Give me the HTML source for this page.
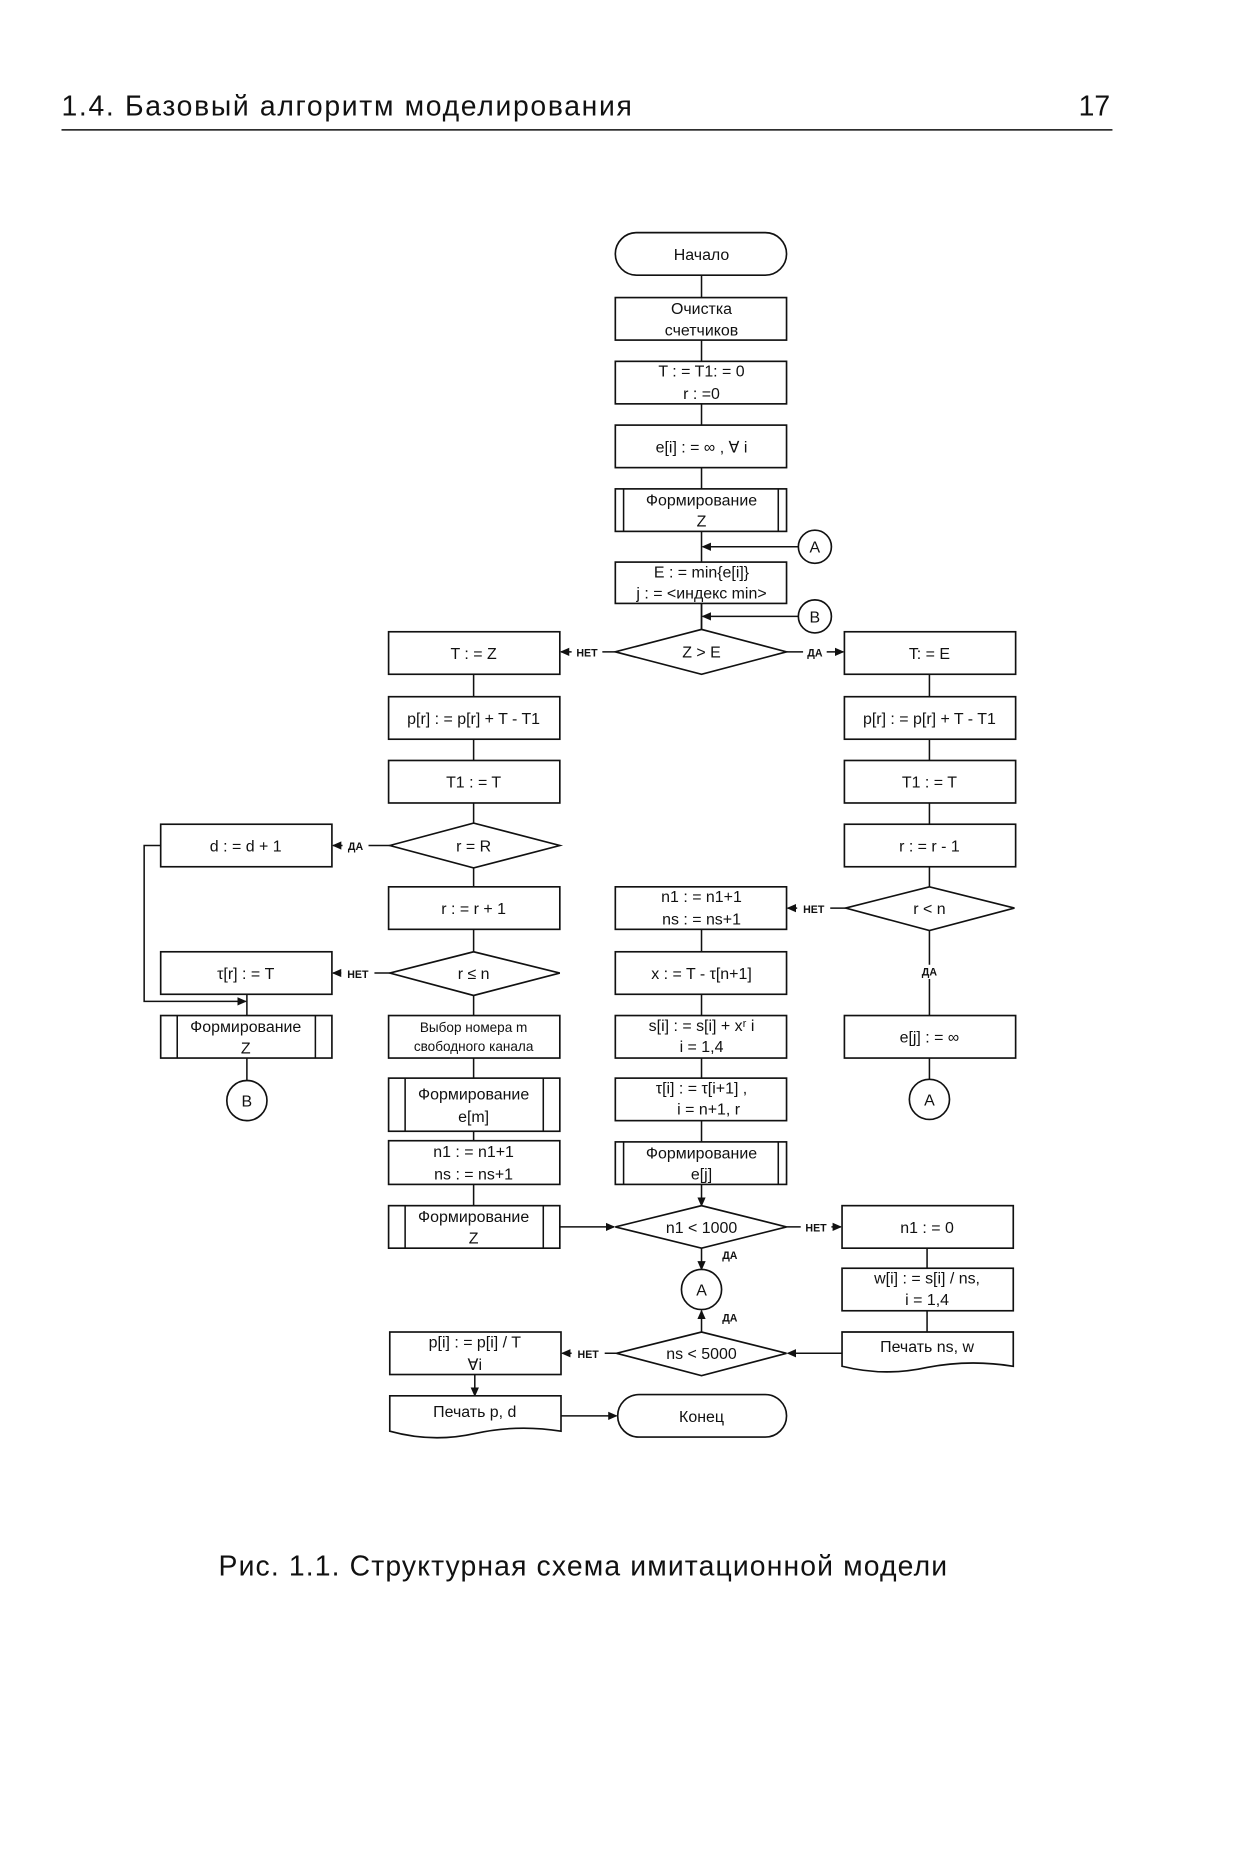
<!DOCTYPE html>
<html><head><meta charset="utf-8"><style>
html,body{margin:0;padding:0;background:#fff;}
svg{display:block;}
text{font-family:"Liberation Sans",sans-serif;fill:#111;}
.b{fill:#fff;stroke:#111;stroke-width:1.4;}
.l{fill:none;stroke:#111;stroke-width:1.3;}
.t{font-size:13.5px;text-anchor:middle;}
.s{font-size:9px;text-anchor:middle;font-weight:bold;}
</style></head><body>
<svg width="1233" height="1851" viewBox="0 0 1044 1567.5" xmlns="http://www.w3.org/2000/svg">
<defs><marker id="a" markerWidth="8" markerHeight="8" refX="7" refY="4" orient="auto" markerUnits="userSpaceOnUse"><path d="M0,0.5 L8,4 L0,7.5 z" fill="#111"/></marker></defs>
<rect width="1044" height="1567.5" fill="#fff"/>
<text x="52" y="98" style="font-size:24px" textLength="483" lengthAdjust="spacing">1.4.  Базовый алгоритм моделирования</text>
<text x="940" y="98" style="font-size:24px;text-anchor:end">17</text>
<line x1="52" y1="110" x2="942" y2="110" stroke="#111" stroke-width="1.2"/>

<line class="l" x1="594" y1="233" x2="594" y2="533"/>
<line class="l" x1="401" y1="571" x2="401" y2="1021"/>
<line class="l" x1="787" y1="571" x2="787" y2="751"/>
<line class="l" x1="594" y1="751" x2="594" y2="1003"/>
<line class="l" x1="594" y1="1003" x2="594" y2="1021" marker-end="url(#a)"/>
<line class="l" x1="787" y1="788" x2="787" y2="860"/>
<line class="l" x1="787" y1="896" x2="787" y2="914"/>
<line class="l" x1="785" y1="1057" x2="785" y2="1128"/>
<line class="l" x1="209" y1="842" x2="209" y2="860"/>
<line class="l" x1="209" y1="896" x2="209" y2="915"/>
<line class="l" x1="402" y1="1164" x2="402" y2="1182" marker-end="url(#a)"/>

<line class="l" x1="677" y1="463" x2="595" y2="463" marker-end="url(#a)"/>
<line class="l" x1="677" y1="522" x2="595" y2="522" marker-end="url(#a)"/>
<circle class="b" cx="690" cy="463" r="14"/><text class="t" x="690" y="468">A</text>
<circle class="b" cx="690" cy="522" r="14"/><text class="t" x="690" y="527">B</text>

<rect class="b" x="521" y="197" width="145" height="36" rx="18"/><text class="t" x="594" y="220">Начало</text>
<rect class="b" x="521" y="252" width="145" height="36"/><text class="t" x="594" y="266">Очистка</text><text class="t" x="594" y="284">счетчиков</text>
<rect class="b" x="521" y="306" width="145" height="36"/><text class="t" x="594" y="319">T : = T1: = 0</text><text class="t" x="594" y="338">r : =0</text>
<rect class="b" x="521" y="360" width="145" height="36"/><text class="t" x="594" y="383">e[i] : = ∞ ,  ∀ i</text>
<rect class="b" x="521" y="414" width="145" height="36"/><line class="l" x1="528" y1="414" x2="528" y2="450"/><line class="l" x1="659" y1="414" x2="659" y2="450"/><text class="t" x="594" y="428">Формирование</text><text class="t" x="594" y="446">Z</text>
<rect class="b" x="521" y="476" width="145" height="35"/><text class="t" x="594" y="489">E : = min{e[i]}</text><text class="t" x="594" y="507">j : = &lt;индекс min&gt;</text>
<line class="l" x1="594" y1="511" x2="594" y2="533"/>

<polygon class="b" points="521,552 594,533 666,552 594,571"/><text class="t" x="594" y="557">Z &gt; E</text>
<line class="l" x1="521" y1="552" x2="475" y2="552" marker-end="url(#a)"/><rect x="484" y="546" width="26" height="12" fill="#fff"/><text class="s" x="497" y="556">НЕТ</text>
<line class="l" x1="666" y1="552" x2="714" y2="552" marker-end="url(#a)"/><rect x="680" y="546" width="20" height="12" fill="#fff"/><text class="s" x="690" y="556">ДА</text>

<rect class="b" x="329" y="535" width="145" height="36"/><text class="t" x="401" y="558">T : = Z</text>
<rect class="b" x="329" y="590" width="145" height="36"/><text class="t" x="401" y="613">p[r] : = p[r] + T - T1</text>
<rect class="b" x="329" y="644" width="145" height="36"/><text class="t" x="401" y="667">T1 : = T</text>
<polygon class="b" points="330,716 401,697 474,716 401,735"/><text class="t" x="401" y="721">r = R</text>
<line class="l" x1="330" y1="716" x2="282" y2="716" marker-end="url(#a)"/><rect x="290" y="710" width="22" height="12" fill="#fff"/><text class="s" x="301" y="720">ДА</text>
<rect class="b" x="136" y="698" width="145" height="36"/><text class="t" x="208" y="721">d : = d + 1</text>
<rect class="b" x="329" y="751" width="145" height="36"/><text class="t" x="401" y="774">r : = r  + 1</text>
<polygon class="b" points="330,824 401,806 474,824 401,843"/><text class="t" x="401" y="829">r ≤ n</text>
<line class="l" x1="330" y1="824" x2="282" y2="824" marker-end="url(#a)"/><rect x="289" y="818" width="28" height="12" fill="#fff"/><text class="s" x="303" y="828">НЕТ</text>
<rect class="b" x="136" y="806" width="145" height="36"/><text class="t" x="208" y="829">τ[r] : = T</text>
<polyline class="l" points="136,716 122,716 122,848 208,848" marker-end="url(#a)"/>
<rect class="b" x="136" y="860" width="145" height="36"/><line class="l" x1="150" y1="860" x2="150" y2="896"/><line class="l" x1="267" y1="860" x2="267" y2="896"/><text class="t" x="208" y="874">Формирование</text><text class="t" x="208" y="892">Z</text>
<circle class="b" cx="209" cy="932" r="17"/><text class="t" x="209" y="937">B</text>
<rect class="b" x="329" y="860" width="145" height="36"/><text class="t" x="401" y="874" style="font-size:11.5px">Выбор номера  m</text><text class="t" x="401" y="890" style="font-size:11.5px">свободного канала</text>
<rect class="b" x="329" y="913" width="145" height="45"/><line class="l" x1="343" y1="913" x2="343" y2="958"/><line class="l" x1="460" y1="913" x2="460" y2="958"/><text class="t" x="401" y="931">Формирование</text><text class="t" x="401" y="950">e[m]</text>
<rect class="b" x="329" y="966" width="145" height="37"/><text class="t" x="401" y="980">n1 : = n1+1</text><text class="t" x="401" y="999">ns : = ns+1</text>
<rect class="b" x="329" y="1021" width="145" height="36"/><line class="l" x1="343" y1="1021" x2="343" y2="1057"/><line class="l" x1="460" y1="1021" x2="460" y2="1057"/><text class="t" x="401" y="1035">Формирование</text><text class="t" x="401" y="1053">Z</text>
<line class="l" x1="474" y1="1039" x2="520" y2="1039" marker-end="url(#a)"/>

<rect class="b" x="521" y="751" width="145" height="36"/><text class="t" x="594" y="764">n1 : = n1+1</text><text class="t" x="594" y="783">ns : = ns+1</text>
<rect class="b" x="521" y="806" width="145" height="36"/><text class="t" x="594" y="829">x : = T - τ[n+1]</text>
<rect class="b" x="521" y="860" width="145" height="36"/><text class="t" x="594" y="873">s[i] : = s[i] + xʳ i</text><text class="t" x="594" y="891">i = 1,4</text>
<rect class="b" x="521" y="913" width="145" height="36"/><text class="t" x="594" y="926">τ[i] : = τ[i+1] ,</text><text class="t" x="600" y="944">i = n+1, r</text>
<rect class="b" x="521" y="967" width="145" height="36"/><line class="l" x1="528" y1="967" x2="528" y2="1003"/><line class="l" x1="659" y1="967" x2="659" y2="1003"/><text class="t" x="594" y="981">Формирование</text><text class="t" x="594" y="999">e[j]</text>
<polygon class="b" points="521,1039 594,1021 666,1039 594,1057"/><text class="t" x="594" y="1044">n1 &lt; 1000</text>
<line class="l" x1="666" y1="1039" x2="712" y2="1039" marker-end="url(#a)"/><rect x="678" y="1033" width="26" height="12" fill="#fff"/><text class="s" x="691" y="1043">НЕТ</text>
<line class="l" x1="594" y1="1057" x2="594" y2="1075" marker-end="url(#a)"/><text class="s" x="618" y="1066">ДА</text>
<circle class="b" cx="594" cy="1092" r="17"/><text class="t" x="594" y="1097">A</text>
<line class="l" x1="594" y1="1128" x2="594" y2="1110" marker-end="url(#a)"/><text class="s" x="618" y="1119">ДА</text>
<polygon class="b" points="522,1146 594,1128 666,1146 594,1165"/><text class="t" x="594" y="1151">ns &lt; 5000</text>
<line class="l" x1="522" y1="1146" x2="476" y2="1146" marker-end="url(#a)"/><rect x="484" y="1140" width="28" height="12" fill="#fff"/><text class="s" x="498" y="1150">НЕТ</text>
<rect class="b" x="330" y="1128" width="145" height="36"/><text class="t" x="402" y="1141">p[i] : = p[i] / T</text><text class="t" x="402" y="1160">∀i</text>
<path class="b" d="M330,1182 H475 V1212 Q438,1206 402,1214 Q366,1222 330,1212 Z"/><text class="t" x="402" y="1200">Печать  p, d</text>
<line class="l" x1="475" y1="1199" x2="522" y2="1199" marker-end="url(#a)"/>
<rect class="b" x="523" y="1181" width="143" height="36" rx="18"/><text class="t" x="594" y="1204">Конец</text>

<rect class="b" x="715" y="535" width="145" height="36"/><text class="t" x="787" y="558">T: = E</text>
<rect class="b" x="715" y="590" width="145" height="36"/><text class="t" x="787" y="613">p[r] : = p[r] + T - T1</text>
<rect class="b" x="715" y="644" width="145" height="36"/><text class="t" x="787" y="667">T1 : = T</text>
<rect class="b" x="715" y="698" width="145" height="36"/><text class="t" x="787" y="721">r : = r  - 1</text>
<polygon class="b" points="716,769 787,751 859,769 787,788"/><text class="t" x="787" y="774">r &lt; n</text>
<line class="l" x1="716" y1="769" x2="667" y2="769" marker-end="url(#a)"/><rect x="675" y="763" width="28" height="12" fill="#fff"/><text class="s" x="689" y="773">НЕТ</text>
<rect x="777" y="817" width="20" height="12" fill="#fff"/><text class="s" x="787" y="826">ДА</text>
<rect class="b" x="715" y="860" width="145" height="36"/><text class="t" x="787" y="883">e[j] : = ∞</text>
<circle class="b" cx="787" cy="931" r="17"/><text class="t" x="787" y="936">A</text>
<rect class="b" x="713" y="1021" width="145" height="36"/><text class="t" x="785" y="1044">n1 : = 0</text>
<rect class="b" x="713" y="1074" width="145" height="36"/><text class="t" x="785" y="1087">w[i] : = s[i] / ns,</text><text class="t" x="785" y="1105">i = 1,4</text>
<path class="b" d="M713,1128 H858 V1157 Q821,1151 785,1158 Q749,1166 713,1157 Z"/><text class="t" x="785" y="1145">Печать ns, w</text>
<line class="l" x1="713" y1="1146" x2="667" y2="1146" marker-end="url(#a)"/>

<text x="185" y="1334" style="font-size:24px" textLength="617" lengthAdjust="spacing">Рис. 1.1. Структурная схема имитационной модели</text>
</svg>
</body></html>
